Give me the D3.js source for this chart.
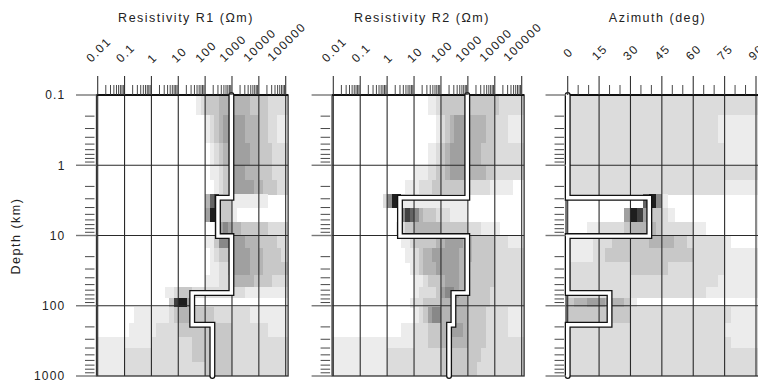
<!DOCTYPE html>
<html><head><meta charset="utf-8">
<script src="https://cdn.jsdelivr.net/npm/d3@7"></script>
<style>
html,body{margin:0;padding:0;background:#fff;}
svg{display:block;font-family:"Liberation Sans",Arial,Helvetica,sans-serif;}
</style></head><body>
<svg id="chart" width="758" height="385"></svg>
<script>
// ---------------- data ----------------
const depthTicks = [0.1, 1, 10, 100, 1000];
const depthTickLabels = ["0.1", "1", "10", "100", "1000"];
const resTicks = [0.01, 0.1, 1, 10, 100, 1000, 10000, 100000];
const resTickLabels = ["0.01", "0.1", "1", "10", "100", "1000", "10000", "100000"];
const azTicks = [0, 15, 30, 45, 60, 75, 90];
const azTickLabels = ["0", "15", "30", "45", "60", "75", "90"];
const panelTitles = ["Resistivity R1 (\u03A9m)", "Resistivity R2 (\u03A9m)", "Azimuth (deg)"];
const depthTitle = "Depth (km)";

// depth boundaries of the density rows (km)
const cellDepthEdges = [0.1, 0.19, 0.48, 1.0, 1.6, 2.6, 4.0, 6.4, 10, 15, 24, 36, 54, 77, 105, 175, 275, 400, 630, 1000];
const resBinsPerDecade = 6;   // resistivity bins: 1/6 decade starting at 0.01 Ohm-m
const resBinOrigin = 0.01;
const azBinWidth = 3;         // azimuth bins in degrees

// best-fit layered model (step lines)
const layerDepths = [0.1, 2.9, 10.2, 66, 186, 1000];
const r1Model = [950, 300, 950, 33, 186];
const r2Model = [950, 3, 950, 290, 200];
const azModel = [0, 39, 0, 20, 0];

// posterior density shades (0 = white ... 9 = black), one row per depth cell
const r1Density = [
[0,0,0,0,0,0, 0,0,0,0,0,0, 0,0,0,0,0,0, 0,0,0,0,1,2, 3,3,3,4,4,4, 4,4,4,4,3,3, 3,3,2,2,2,2, 2],
[0,0,0,0,0,0, 0,0,0,0,0,0, 0,0,0,0,0,0, 0,0,0,0,0,0, 1,2,3,4,5,5, 5,5,5,4,4,4, 3,3,2,2,1,1, 1],
[0,0,0,0,0,0, 0,0,0,0,0,0, 0,0,0,0,0,0, 0,0,0,0,0,0, 0,1,2,3,4,5, 5,5,5,5,4,4, 3,3,3,2,2,2, 2],
[0,0,0,0,0,0, 0,0,0,0,0,0, 0,0,0,0,0,0, 0,0,0,0,0,0, 0,1,1,2,3,3, 5,5,5,4,4,4, 3,3,3,2,2,2, 2],
[0,0,0,0,0,0, 0,0,0,0,0,0, 0,0,0,0,0,0, 0,0,0,0,0,0, 0,0,1,2,3,3, 5,5,5,5,5,4, 4,3,3,3,2,2, 2],
[0,0,0,0,0,0, 0,0,0,0,0,0, 0,0,0,0,0,0, 0,0,0,0,0,0, 4,7,8,3,3,3, 1,1,1,1,1,1, 1,1,0,0,0,0, 0],
[0,0,0,0,0,0, 0,0,0,0,0,0, 0,0,0,0,0,0, 0,0,0,0,0,0, 5,9,9,3,3,3, 1,0,0,0,0,0, 0,0,0,0,0,0, 0],
[0,0,0,0,0,0, 0,0,0,0,0,0, 0,0,0,0,0,0, 0,0,0,0,0,0, 0,0,2,5,6,5, 4,4,3,3,3,3, 3,3,2,2,2,2, 2],
[0,0,0,0,0,0, 0,0,0,0,0,0, 0,0,0,0,0,0, 0,0,0,0,0,0, 1,1,3,6,6,6, 5,5,5,4,4,4, 3,3,3,3,2,2, 2],
[0,0,0,0,0,0, 0,0,0,0,0,0, 0,0,0,0,0,0, 0,0,0,0,0,0, 0,1,2,3,3,4, 5,5,5,5,4,4, 4,3,3,3,3,2, 2],
[0,0,0,0,0,0, 0,0,0,0,0,0, 0,0,0,0,0,0, 0,0,0,0,0,0, 0,1,1,2,2,3, 5,5,5,5,4,4, 4,3,3,3,3,3, 3],
[0,0,0,0,0,0, 0,0,0,0,0,0, 0,0,0,0,0,0, 0,0,0,0,0,0, 1,1,1,2,2,2, 4,4,4,4,4,3, 3,3,3,2,2,2, 2],
[0,0,0,0,0,0, 0,0,0,0,0,0, 0,0,0,1,1,2, 3,3,3,2,2,2, 2,2,2,2,2,2, 2,2,2,1,1,1, 1,1,1,1,1,1, 1],
[0,0,0,0,0,0, 0,0,0,0,0,0, 0,0,0,0,3,8, 9,9,5,0,0,0, 0,0,0,0,0,0, 0,0,0,0,0,0, 0,0,0,0,0,0, 0],
[0,0,0,0,0,0, 0,0,1,1,1,1, 1,1,1,1,2,3, 4,4,4,3,3,3, 3,3,2,2,2,2, 2,2,2,2,1,1, 1,1,1,1,1,1, 1],
[0,0,0,0,0,0, 0,1,1,1,1,1, 1,2,2,2,2,2, 3,3,3,3,3,3, 3,3,3,3,3,3, 2,2,2,2,2,2, 2,2,1,1,1,1, 1],
[1,1,1,1,1,1, 1,1,1,1,1,1, 2,2,2,2,2,2, 2,2,2,3,3,3, 3,3,3,3,3,3, 2,2,2,2,2,2, 2,2,2,2,2,2, 2],
[1,1,1,1,1,1, 2,2,2,2,2,2, 2,2,2,2,2,2, 2,2,2,3,3,3, 3,3,3,3,3,3, 2,2,2,2,2,2, 2,2,2,2,2,2, 2],
[1,1,1,1,1,1, 2,2,2,2,2,2, 2,2,2,2,2,2, 2,2,2,2,2,2, 3,3,3,3,3,3, 2,2,2,2,2,2, 2,2,2,2,2,2, 2]
];

const r2Density = [
[0,0,0,0,0,0, 0,0,0,0,0,0, 0,0,0,0,0,0, 0,0,0,1,1,2, 3,3,3,3,3,3, 3,3,3,3,3,3, 3,2,2,2,2,2, 2],
[0,0,0,0,0,0, 0,0,0,0,0,0, 0,0,0,0,0,0, 0,0,0,0,0,1, 2,3,4,5,5,5, 4,4,4,4,3,3, 2,2,2,1,1,1, 1],
[0,0,0,0,0,0, 0,0,0,0,0,0, 0,0,0,0,0,0, 0,0,0,1,1,2, 3,4,5,5,5,5, 4,4,4,3,3,3, 2,2,2,2,2,2, 2],
[0,0,0,0,0,0, 0,0,0,0,0,0, 0,0,0,0,0,0, 1,1,1,2,2,3, 3,4,5,5,5,5, 4,4,4,4,3,3, 2,2,2,2,2,2, 2],
[0,0,0,0,0,0, 0,0,0,0,0,0, 0,0,0,0,1,1, 1,2,2,2,3,3, 3,3,3,3,3,3, 2,2,2,2,2,1, 1,1,1,1,0,0, 0],
[0,0,0,0,0,0, 0,0,0,0,0,2, 6,9,9,1,1,1, 1,1,1,1,1,1, 1,1,1,1,1,1, 0,0,0,0,0,0, 0,0,0,0,0,0, 0],
[0,0,0,0,0,0, 0,0,0,0,0,0, 0,0,0,6,8,7, 6,4,3,3,3,2, 2,2,1,1,1,1, 0,0,0,0,0,0, 0,0,0,0,0,0, 0],
[0,0,0,0,0,0, 0,0,0,0,0,0, 0,0,1,2,3,3, 4,4,4,4,4,4, 3,3,3,3,3,3, 2,2,2,1,1,1, 1,0,0,0,0,0, 0],
[0,0,0,0,0,0, 0,0,0,0,0,0, 0,0,0,1,1,2, 3,3,3,3,3,4, 4,5,5,5,5,4, 4,3,3,3,3,3, 2,2,2,1,1,1, 1],
[0,0,0,0,0,0, 0,0,0,0,0,0, 0,0,0,0,1,1, 2,3,4,4,5,5, 5,5,5,5,4,4, 4,3,3,3,3,3, 2,2,2,2,2,2, 2],
[0,0,0,0,0,0, 0,0,0,0,0,0, 0,0,0,0,0,1, 2,3,4,4,4,5, 5,5,5,5,4,4, 3,3,3,3,3,3, 2,2,2,2,2,2, 2],
[0,0,0,0,0,0, 0,0,0,0,0,0, 0,0,0,0,0,0, 1,1,2,3,3,3, 4,5,5,5,4,4, 3,3,3,3,3,3, 2,2,2,2,2,2, 2],
[0,0,0,0,0,0, 0,0,0,0,0,0, 0,0,0,0,0,0, 1,2,2,2,2,3, 5,6,6,5,4,4, 3,3,3,3,3,2, 2,2,2,2,2,2, 2],
[0,0,0,0,0,0, 0,0,0,0,0,0, 0,0,0,0,0,1, 2,2,3,3,3,3, 4,4,4,4,4,4, 3,3,3,3,3,2, 2,2,2,2,2,2, 2],
[0,0,0,0,0,0, 0,0,0,0,0,0, 0,0,0,0,0,0, 1,2,3,5,6,6, 4,4,4,4,4,4, 3,3,3,3,2,2, 2,2,2,1,1,1, 1],
[0,0,0,0,0,0, 0,0,0,0,0,0, 0,0,0,1,1,1, 2,2,2,3,3,3, 4,4,5,5,5,4, 3,3,3,3,2,2, 2,2,2,1,1,1, 1],
[1,1,1,1,1,1, 1,1,1,1,1,1, 1,1,1,1,1,1, 2,2,2,3,3,3, 4,4,4,4,4,4, 3,3,3,3,2,2, 2,2,2,2,2,2, 2],
[1,1,1,1,1,1, 1,1,1,1,1,1, 2,2,2,2,2,2, 2,2,2,2,2,2, 3,3,3,3,3,3, 3,3,3,2,2,2, 2,2,2,2,2,2, 2],
[1,1,1,1,1,1, 1,1,1,1,1,1, 2,2,2,2,2,2, 2,2,2,2,2,2, 3,3,3,3,3,3, 3,3,2,2,2,2, 2,2,2,2,2,2, 2]
];

const azDensity = [
[2,2,2,2,2,2, 2,2,2,2,2,2, 2,2,2,2,2,2, 2,2,2,2,2,2, 2,2,2,2,2,2],
[2,2,2,2,2,2, 2,2,2,2,2,2, 2,2,2,2,2,2, 2,2,2,2,2,2, 1,1,1,1,1,1],
[2,2,2,2,2,2, 2,2,2,2,2,2, 2,2,2,2,2,2, 2,2,2,2,2,2, 2,1,1,1,1,1],
[2,2,2,2,2,2, 2,2,2,2,2,2, 2,2,2,2,2,2, 2,2,2,2,2,2, 2,2,2,2,2,2],
[2,2,2,2,2,2, 2,2,2,2,2,2, 2,2,2,2,2,2, 2,2,2,2,2,2, 2,1,1,1,1,1],
[0,0,0,0,0,0, 0,0,0,0,0,0, 7,9,6,1,0,0, 0,0,0,0,0,0, 0,0,0,0,0,0],
[0,0,0,0,0,0, 0,0,0,5,9,8, 5,3,3,2,1,0, 0,0,0,0,0,0, 0,0,0,0,0,0],
[0,0,0,1,1,2, 2,2,2,3,4,4, 4,4,3,2,2,2, 2,2,1,1,0,0, 0,0,0,0,0,0],
[1,1,1,1,2,2, 2,3,3,3,3,3, 3,4,4,4,4,3, 3,2,2,2,2,2, 2,1,0,0,0,0],
[1,1,1,1,2,2, 3,3,3,3,3,3, 3,3,3,3,3,3, 3,3,2,2,2,2, 2,1,1,1,1,1],
[2,2,2,2,2,2, 2,2,2,2,3,3, 3,3,3,3,2,2, 2,2,2,2,2,2, 2,1,1,1,1,1],
[2,2,2,2,2,2, 2,2,2,2,2,2, 2,2,2,2,2,2, 2,2,2,2,2,2, 1,1,1,1,1,1],
[2,2,2,2,2,2, 2,2,2,2,2,2, 2,2,2,2,2,2, 2,2,2,2,1,1, 1,1,1,1,1,1],
[3,4,4,5,5,5, 4,4,4,3,1,0, 0,0,0,0,0,0, 0,0,0,0,0,0, 0,0,0,0,0,0],
[3,3,3,3,3,3, 3,3,3,3,2,2, 2,2,2,2,2,2, 2,2,2,2,2,2, 2,2,1,1,1,1],
[2,2,2,2,2,2, 2,2,2,2,2,2, 2,2,2,2,2,2, 2,2,2,2,2,2, 2,1,1,1,1,1],
[2,2,2,2,2,2, 2,2,2,2,2,2, 2,2,2,2,2,2, 2,2,2,2,2,2, 2,2,1,1,1,1],
[2,2,2,2,2,2, 2,2,2,2,2,2, 2,2,2,2,2,2, 2,2,2,2,2,2, 2,2,2,2,2,2],
[2,2,2,2,2,2, 2,2,2,2,2,2, 2,2,2,2,2,2, 2,2,2,2,2,2, 2,2,2,2,2,2]
];

// ---------------- drawing ----------------
const greys = ["#ffffff","#ececec","#dcdcdc","#c8c8c8","#b4b4b4","#a0a0a0","#888888","#646464","#404040","#1e1e1e"];
const svg = d3.select("#chart");
const y = d3.scaleLog().domain([0.1, 1000]).range([95, 376]);
const yTop = y(0.1), yBot = y(1000);

const xR1 = d3.scaleLog().domain([0.01, 1e5]).range([97.7, 285.7]);
const xR2 = d3.scaleLog().domain([0.01, 1e5]).range([333.3, 521.7]);
const xAz = d3.scaleLinear().domain([0, 90]).range([567.7, 756]);

const panels = [
  {x: xR1, log: true, frame: [Math.pow(10, -2.045), Math.pow(10, 5.09)], density: r1Density, model: r1Model,
   ticks: resTicks, labels: resTickLabels, title: panelTitles[0], titleX: 186},
  {x: xR2, log: true, frame: [Math.pow(10, -2.045), Math.pow(10, 5.09)], density: r2Density, model: r2Model,
   ticks: resTicks, labels: resTickLabels, title: panelTitles[1], titleX: 422},
  {x: xAz, log: false, frame: [-0.8, 91.2], density: azDensity, model: azModel,
   ticks: azTicks, labels: azTickLabels, title: panelTitles[2], titleX: 657.5}
];

const defs = svg.append("defs");

panels.forEach((p, pi) => {
  const fl = p.x(p.frame[0]), fr = p.x(p.frame[1]);
  const clipId = "clip" + pi;
  defs.append("clipPath").attr("id", clipId).append("rect")
    .attr("x", fl).attr("y", yTop).attr("width", fr - fl).attr("height", yBot - yTop);
  const g = svg.append("g");

  // density cells
  const cells = [];
  p.density.forEach((row, r) => {
    row.forEach((v, i) => {
      if (!v) return;
      let lo, hi;
      if (p.log) {
        lo = resBinOrigin * Math.pow(10, i / resBinsPerDecade);
        hi = resBinOrigin * Math.pow(10, (i + 1) / resBinsPerDecade);
      } else {
        lo = i * azBinWidth; hi = (i + 1) * azBinWidth;
      }
      let x0 = i === 0 ? fl : p.x(lo);
      let x1 = Math.min(p.x(hi), fr);
      if (i === row.length - 1) x1 = fr;
      cells.push({x0, x1, y0: y(cellDepthEdges[r]), y1: y(cellDepthEdges[r + 1]), v});
    });
  });
  g.append("g").attr("clip-path", `url(#${clipId})`).attr("shape-rendering", "crispEdges")
    .selectAll("rect").data(cells).join("rect")
    .attr("x", d => d.x0).attr("y", d => d.y0)
    .attr("width", d => d.x1 - d.x0 + 0.3).attr("height", d => d.y1 - d.y0 + 0.3)
    .attr("fill", d => greys[d.v]);

  // grid
  const grid = g.append("g").attr("stroke", "#2a2a2a").attr("stroke-width", 1.1);
  grid.selectAll("line.v").data(p.ticks).join("line").attr("class", "v")
    .attr("x1", d => p.x(d)).attr("x2", d => p.x(d)).attr("y1", yTop).attr("y2", yBot);
  grid.selectAll("line.h").data(depthTicks.slice(1, -1)).join("line").attr("class", "h")
    .attr("x1", fl).attr("x2", fr).attr("y1", d => y(d)).attr("y2", d => y(d));

  // frame
  g.append("rect").attr("x", fl).attr("y", yTop).attr("width", fr - fl).attr("height", yBot - yTop)
    .attr("fill", "none").attr("stroke", "#333").attr("stroke-width", 1.3);
  g.append("line").attr("x1", fl).attr("x2", fr).attr("y1", yTop).attr("y2", yTop)
    .attr("stroke", "#111").attr("stroke-width", 2);

  // model line
  const pts = [];
  p.model.forEach((v, k) => {
    pts.push([p.x(v), y(layerDepths[k])]);
    pts.push([p.x(v), y(layerDepths[k + 1])]);
  });
  const line = d3.line();
  g.append("path").attr("d", line(pts)).attr("fill", "none").attr("stroke", "#111")
    .attr("stroke-width", 6).attr("stroke-linejoin", "miter").attr("stroke-linecap", "round");
  g.append("path").attr("d", line(pts)).attr("fill", "none").attr("stroke", "#fff")
    .attr("stroke-width", 3.4).attr("stroke-linejoin", "miter").attr("stroke-linecap", "round");

  // top ticks
  const tk = svg.append("g").attr("stroke", "#333");
  tk.selectAll("line.maj").data(p.ticks).join("line").attr("class", "maj")
    .attr("x1", d => p.x(d)).attr("x2", d => p.x(d)).attr("y1", yTop - 19).attr("y2", yTop)
    .attr("stroke-width", 1.1);
  let minors = [];
  if (p.log) {
    p.ticks.slice(0, -1).forEach(d => { for (let m = 2; m <= 9; m++) minors.push(d * m); });
  } else {
    for (let a = 5; a < 90; a += 5) if (a % 15) minors.push(a);
  }
  tk.selectAll("line.min").data(minors).join("line").attr("class", "min")
    .attr("x1", d => p.x(d)).attr("x2", d => p.x(d)).attr("y1", yTop - 10).attr("y2", yTop)
    .attr("stroke-width", 0.9);

  // left depth ticks
  const ytk = svg.append("g");
  ytk.selectAll("line.maj").data(depthTicks).join("line").attr("class", "maj")
    .attr("x1", fl - 20.5).attr("x2", fl).attr("y1", d => y(d)).attr("y2", d => y(d))
    .attr("stroke", "#777").attr("stroke-width", 1.4);
  const yMinors = [];
  depthTicks.slice(0, -1).forEach(d => { for (let m = 2; m <= 9; m++) yMinors.push(d * m); });
  ytk.selectAll("line.min").data(yMinors).join("line").attr("class", "min")
    .attr("x1", fl - 11.5).attr("x2", fl - 2).attr("y1", d => y(d)).attr("y2", d => y(d))
    .attr("stroke", "#333").attr("stroke-width", 0.9);

  // tick labels (rotated)
  const tl = svg.append("g").attr("font-size", 12).attr("letter-spacing", 1.5).attr("fill", "#222");
  p.labels.forEach((lab, k) => {
    const t = tl.append("text").text(lab).attr("text-anchor", "middle").attr("dominant-baseline", "central");
    const L = t.node().getComputedTextLength();
    const cx = p.x(p.ticks[k]) + (p.log ? 1 : 0.5);
    const cy = p.log ? 61.5 - 0.4 * L : 52.5;
    t.attr("transform", `translate(${cx},${cy}) rotate(-45)`);
  });

  // title
  svg.append("text").text(p.title).attr("x", p.titleX).attr("y", 22)
    .attr("text-anchor", "middle").attr("font-size", 12.5).attr("letter-spacing", 1.5).attr("fill", "#222");
});

// depth labels (first panel only)
svg.append("g").attr("font-size", 12).attr("letter-spacing", 1.2).attr("fill", "#222")
  .selectAll("text").data(depthTicks).join("text")
  .attr("x", 65.5).attr("y", d => y(d)).attr("dy", "0.36em").attr("text-anchor", "end")
  .text((d, i) => depthTickLabels[i]);

svg.append("text").text(depthTitle)
  .attr("transform", `translate(19.5,236) rotate(-90)`)
  .attr("text-anchor", "middle").attr("font-size", 12.5).attr("letter-spacing", 1.5).attr("fill", "#222");
</script>
</body></html>
